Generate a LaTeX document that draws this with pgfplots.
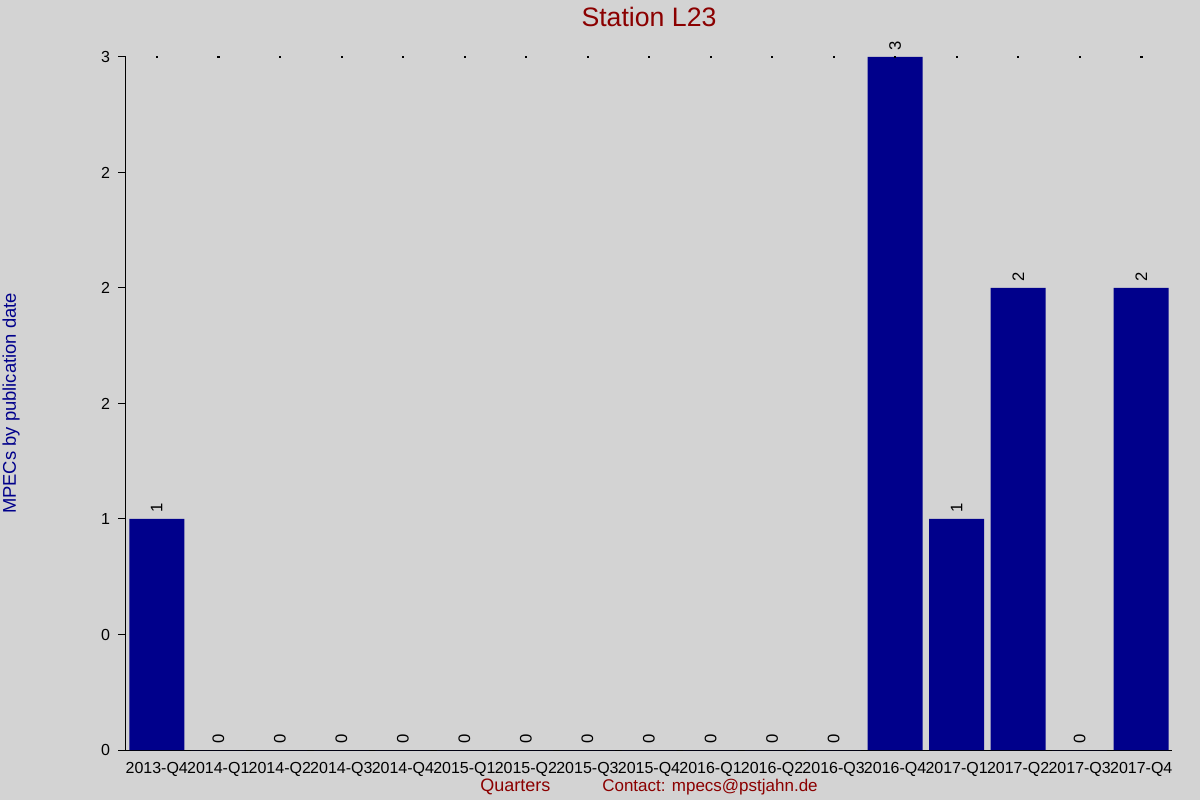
\documentclass[border=0pt]{standalone}
\usepackage{fontspec}
\setmainfont{Liberation Sans}
\usepackage{pgfplots}
\pgfplotsset{compat=1.18}
\definecolor{bg}{HTML}{D3D3D3}
\definecolor{barblue}{HTML}{00008B}
\definecolor{titlered}{HTML}{8B0000}
\begin{document}
\begin{tikzpicture}[x=1pt,y=1pt]
\fill[bg] (0,0) rectangle (900,600);
\useasboundingbox (0,0) rectangle (900,600);
\begin{axis}[
  at={(94.5pt,37.5pt)}, anchor=south west,
  scale only axis, width=784.5pt, height=519.75pt,
  xmin=-0.5, xmax=16.5, ymin=0, ymax=3,
  axis x line*=bottom, axis y line*=left,
  axis line style={black, -, line width=0.75pt},
  clip=false,
  /pgf/number format/assume math mode=true,
  tick align=outside,
  major tick length=6pt,
  xtick={0,...,16},
  xticklabels={2013-Q4,2014-Q1,2014-Q2,2014-Q3,2014-Q4,2015-Q1,2015-Q2,2015-Q3,2015-Q4,2016-Q1,2016-Q2,2016-Q3,2016-Q4,2017-Q1,2017-Q2,2017-Q3,2017-Q4},
  xtick style={draw=none},
  ytick={0,0.5,1,1.5,2,2.5,3},
  yticklabels={0,0,1,2,2,2,3},
  ytick style={black, line width=0.75pt},
  ticklabel style={font=\fontsize{12}{14}\selectfont, black},
  yticklabel style={xshift=-2.5pt},
  every axis title/.style={},
  title={Station L23},
  title style={at={(axis description cs:0.5,1.0433)}, anchor=base, font=\fontsize{20}{22}\selectfont, text=titlered},
  xlabel={\fontsize{13.5}{15}\selectfont Quarters\hspace{39pt}\fontsize{12.75}{15}\selectfont Contact: mpecs@pstjahn.de},
  xlabel style={at={(axis description cs:0.5,-0.0606)}, anchor=base, text=titlered},
  ylabel={MPECs by publication date},
  ylabel style={at={(axis description cs:-0.1052,0.5)}, anchor=base, font=\fontsize{13.8}{15}\selectfont, text=barblue},
]
\addplot[only marks, mark=square*, mark size=0.4pt, black] coordinates {
(0,3) (1,3) (2,3) (3,3) (4,3) (5,3) (6,3) (7,3) (8,3) (9,3) (10,3) (11,3) (12,3) (13,3) (14,3) (15,3) (16,3)};
\addplot[ybar, bar width=41.25pt, fill=barblue, draw=none,
  nodes near coords,
  every node near coord/.append style={rotate=90, anchor=west, inner sep=5pt, font=\fontsize{12.5}{14}\selectfont, text=black}]
coordinates {
(0,1) (1,0) (2,0) (3,0) (4,0) (5,0) (6,0) (7,0) (8,0) (9,0) (10,0) (11,0) (12,3) (13,1) (14,2) (15,0) (16,2)};
\end{axis}
\end{tikzpicture}
\end{document}
